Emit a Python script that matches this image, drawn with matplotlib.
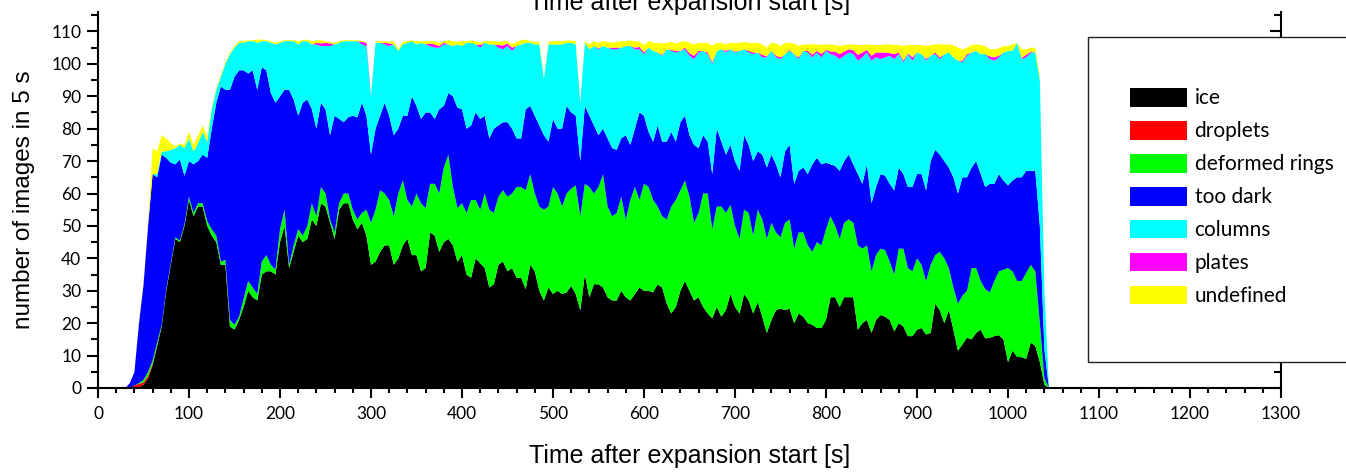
import numpy as np
import matplotlib
matplotlib.use('Agg')
from matplotlib import pyplot as plt
from matplotlib.patches import Rectangle
from matplotlib.ticker import MultipleLocator

# counts per 5 s bin, t = 0, 5, ..., 1045 s
time = np.arange(0, 1050, 5)

ice = [0, 0, 0, 0, 0, 0, 0, 0, 0, 0.3,
       1, 3, 7, 13, 19, 30, 38, 46, 45, 50,
       58, 53, 56, 56, 50, 47, 45, 38, 38, 19,
       18, 21, 25, 30, 28, 27, 35, 36, 36, 35,
       45, 50, 37, 42, 47, 45, 46, 52, 50, 57,
       56, 51, 46, 55, 57, 57, 52, 49, 51, 47,
       38, 39, 42, 44, 44, 38, 40, 44, 46, 41,
       41, 36, 37, 48, 47, 42, 45, 46, 44, 39,
       41, 35, 34, 40, 38.5, 37, 31, 32, 38, 39,
       36, 37, 34, 34, 30.5, 38, 36, 30, 27, 31,
       29, 30, 29, 29.5, 31.5, 29, 24, 35, 28, 32,
       32, 31, 28, 27, 27, 30, 28, 27, 29, 31,
       30, 30, 29.5, 32, 31, 26, 23, 25, 30, 33,
       30, 27, 28, 25, 23, 21.5, 25, 22, 24, 29,
       25, 23, 29, 27, 23, 26.5, 22, 17, 21, 24,
       24.5, 24, 24.5, 20, 23, 22, 20, 19.5, 18.5, 18.5,
       21, 28, 28, 25, 28, 28, 28, 18, 20, 21,
       17, 21, 22.5, 22, 21, 17.5, 20, 19, 16, 16,
       18, 18.5, 16.5, 17, 26, 24, 20, 24, 18, 11.5,
       13.5, 15.5, 15, 17, 18, 15.3, 15.5, 16, 16.3, 15,
       8, 11.5, 9.6, 9.5, 9, 14, 13, 8, 1, 0]

droplets = [0, 0, 0, 0, 0, 0, 0, 0, 0.8, 1,
            0.7, 0.8, 0.5] + [0] * 197

deformed_rings = [0, 0, 0, 0, 0, 0, 0, 0, 0, 0.2,
                  0.8, 1.2, 1, 1, 0.5, 0.5, 0.5, 0.5, 0.5, 0.5,
                  1, 1, 1, 1, 1.5, 2, 2, 1, 1.5, 2,
                  1.5, 1, 2.5, 3, 3, 2, 4, 5, 2, 1.5,
                  4, 5, 1, 2, 2, 2, 4, 5, 3, 5,
                  4, 1, 2, 2, 3, 3, 3, 3, 3, 8,
                  13, 16, 19, 16, 14, 15, 20, 20, 12, 15,
                  19, 21, 18.5, 15, 16, 18, 23, 26, 18, 16.5,
                  16, 19, 24, 18, 16.5, 23, 24, 22, 21, 22,
                  23, 23, 28, 28, 30.5, 28, 24, 26, 28, 25,
                  33, 30, 27, 30.5, 30, 33.5, 29, 28, 34, 28,
                  30, 35, 28, 26, 27, 29, 24, 31, 33, 27,
                  33, 32, 28.5, 24, 22, 26, 33, 33, 31, 31,
                  29, 24, 26, 35, 37, 27.5, 31, 34, 30, 27.5,
                  25, 23, 26, 27, 24, 28.5, 30, 29, 30, 24,
                  22, 27, 27.5, 23, 25, 26, 24, 22.5, 26.5, 25.5,
                  28, 25, 22, 21, 23, 24, 23, 26, 23, 23,
                  19, 20, 20.5, 20.5, 18, 17.5, 23, 24, 21, 20,
                  22, 19.5, 16.5, 21, 15, 18, 20, 13, 13, 14.5,
                  15, 14.5, 22, 20, 15, 15.2, 14, 17, 19.7, 21.5,
                  29, 24.5, 23.4, 23.5, 26.5, 24, 23, 12, 2, 0]

too_dark = [0, 0, 0, 0, 0, 0, 0, 1.5, 4.2, 18.5,
            29.5, 45, 57.5, 51, 52.5, 40.5, 31, 22.5, 25, 15,
            11, 15, 13, 15, 19.5, 31, 41, 54, 52.5, 71,
            76.5, 76, 70.5, 64, 67, 63, 60, 57, 53, 51.5,
            41, 37, 54, 45, 35, 41, 39, 29, 27, 26,
            26, 26, 36, 26, 22, 23.5, 29, 31.5, 34, 29,
            21, 25, 23, 28, 26, 25, 20, 20, 26, 34,
            27, 26, 29.5, 22, 20, 26, 19, 19, 28, 31,
            29, 26, 23, 27, 28, 24, 22, 26, 22, 21,
            23, 20, 15, 15, 25, 21, 24, 25, 23, 20,
            21, 20, 24, 27, 23.5, 21.5, 17, 24, 22, 21,
            16, 14, 21, 21, 19.5, 18, 26, 17, 18, 27,
            21, 17, 18, 25, 23, 24, 23, 18, 21, 20,
            19, 24, 20, 18, 16, 17, 24, 20, 18, 18.5,
            20, 21, 23, 21, 23, 18, 20, 22, 21, 21,
            18.5, 22, 23, 20, 19, 20, 22, 27, 26, 25,
            20.5, 16, 18.5, 21, 19, 20, 18, 22, 20, 25,
            21, 21, 23, 23, 24, 26, 25, 23, 25, 26,
            26, 28, 28, 32, 32.5, 30, 30, 31, 34, 34,
            36.5, 35, 31, 33, 33, 31.5, 33.5, 30, 30, 27.5,
            25.5, 28, 32, 32, 31.5, 29, 31, 30, 9, 0]

columns = [0, 0, 0, 0, 0, 0, 0, 0, 0, 0,
           0, 0, 0, 1, 1, 2, 4, 5, 4.5, 8.5,
           7, 4, 5.5, 7, 5, 6, 4, 3, 8, 11,
           9, 8.5, 8.5, 10, 9, 14.5, 8, 9, 15.5, 18,
           16.5, 15, 15, 18, 22, 19, 18, 20, 26, 17.5,
           19.5, 27.5, 22, 23.5, 25, 23.5, 23, 23.5, 18, 21.5,
           18, 26.5, 22.5, 18, 21.5, 28, 24, 22, 22.5, 17,
           19, 23.5, 21, 20.5, 22, 19, 19, 15, 15.5, 19.5,
           19.5, 26.5, 25.5, 21, 22, 22.5, 29, 26, 24, 22.5,
           23.5, 24, 28.5, 29, 20.5, 19.5, 22, 25, 17.5, 30,
           23, 26, 26, 19.5, 21.5, 22, 18, 19.5, 20.5, 24.5,
           26.5, 25.5, 28, 30.5, 31, 28, 27.5, 30.5, 24.5, 19.5,
           19, 26, 28, 22.5, 26.5, 28.5, 25, 27.5, 22, 20.5,
           24.5, 26.5, 29.5, 26, 27, 34, 24, 28.5, 31.5, 29.5,
           33.5, 37, 26.5, 28.5, 33, 30.5, 30, 34, 32, 33,
           36.5, 30, 29, 40, 34.5, 36, 37.5, 33, 32.5, 33,
           34.5, 34, 34, 34.5, 32.5, 31.5, 34, 35, 39, 34.5,
           44, 40, 35.5, 36.5, 39.5, 40.5, 35, 34.5, 41, 39,
           37.5, 37, 40, 32.5, 29.5, 29.5, 33, 35.5, 37, 41,
           35.5, 37.5, 35.5, 34, 37, 41, 38.5, 38, 36, 39.5,
           41.5, 40, 41.5, 36.5, 35, 36.5, 36.5, 45, 18, 0]

plates = [0] * 48 + [0.5, 0.8,
          1, 0.8, 0, 0, 0, 0, 0, 0, 0.8, 1,
          0.3, 0, 0, 0.5, 0.8, 0, 0, 0, 0, 0,
          0, 0, 0, 0.8, 1, 0.5, 0.5, 0, 0, 0,
          0, 0, 0, 0, 0.8, 0, 0, 0, 0.8, 1.2,
          0.8, 1, 0, 0, 0, 0, 0, 0, 0, 0,
          0, 0, 0, 0, 0, 0, 0, 0, 0, 0,
          0.3, 0, 0, 0.5, 0.5, 0, 0, 0, 0.5, 0.7,
          0.5, 0, 0, 0, 0.3, 0, 0.3, 0.5, 0, 0.5,
          0.8, 1, 0.5, 0, 0.5, 0.5, 0, 0, 0.5, 0,
          0.3, 0, 0, 0.5, 0.5, 0, 0.8, 0.3, 0, 0.5,
          0.5, 0, 0.3, 0, 0.5, 0, 0.5, 0.8, 0.5, 1,
          0.3, 0.8, 1.3, 1.5, 1.3, 1, 1.2, 1.8, 1.5, 0.8,
          1.5, 1.5, 2, 1.5, 0.8, 1.5, 0.5, 0.5, 0.3, 1,
          0, 0, 0.5, 0, 0.5, 0.5, 0, 0, 0, 0,
          0.5, 0.5, 0, 0, 0, 0, 0.8, 1, 0.5, 0,
          0, 0, 0, 0.3, 0.8, 0.3, 0, 0, 0, 0]

undefined = [0, 0, 0, 0, 0, 0, 0, 0, 0.2, 0.5,
             0.5, 0.5, 8, 7, 5, 4, 2, 0.5, 0.5, 1,
             2, 2, 2.5, 2, 1.5, 0.5, 0.5, 0.5, 0.5, 0.5,
             0.5, 0.5, 0.5, 0.3, 0.3, 1, 0.5, 0.3, 0.5, 0.5,
             0.5, 0.3, 0.3, 0.3, 1, 0.3, 0.5, 1, 0.7, 1,
             0.5, 0.5, 0.5, 0.5, 0.3, 0.3, 0.3, 0.3, 0.2, 0.3,
             0.2, 0.5, 0.5, 0.5, 0.5, 1, 0.5, 0.8, 0.5, 0.3,
             1, 0.5, 1, 0.7, 1, 1, 0.5, 1.3, 1.5, 0.8,
             1.5, 0.5, 0.7, 1, 0.7, 0.5, 1, 1, 1, 1.3,
             0.7, 1, 1.3, 1.3, 1, 0.5, 0.8, 0.8, 0.5, 0.8,
             1, 1, 1, 0.7, 0.7, 1, 0, 0.5, 1.5, 1.5,
             1.7, 1.5, 1.8, 1.5, 1.8, 2, 1.5, 1.7, 2, 1.6,
             2.3, 2, 2.5, 3, 3.5, 2, 2.5, 2.3, 2.8, 2,
             3.2, 3.5, 2.5, 2.5, 3, 5, 2.5, 2, 2, 2,
             2.7, 2.5, 2.3, 2.5, 3, 3, 3.2, 2.7, 2.5, 3.8,
             3.5, 3.5, 2.2, 3.3, 3.5, 2, 2, 3.2, 2, 2.8,
             1.7, 2.2, 2, 2.5, 2, 1.5, 1.8, 3, 2.3, 1.7,
             3.3, 2.3, 2.3, 2.5, 2.7, 2.8, 2.3, 4.5, 2.5, 3.8,
             2.3, 2.8, 4, 3.3, 2.5, 4, 3, 2.5, 3.8, 4,
             3.5, 2, 2.3, 2, 2.8, 2.5, 2.2, 2.5, 2.3, 2,
             1.5, 2, 0, 2.7, 1.7, 1.2, 1.5, 1, 0, 0]

labels = ['ice', 'droplets', 'deformed rings', 'too dark', 'columns', 'plates', 'undefined']
colors = ['#000000', '#ff0000', '#00ff00', '#0000ff', '#00ffff', '#ff00ff', '#ffff00']

W, H = 1346, 473
fig = plt.figure(figsize=(W / 100, H / 100), dpi=100)
ax = fig.add_axes([98 / W, 1 - 388 / H, (1281 - 98) / W, (388 - 12) / H])

ax.stackplot(time, ice, droplets, deformed_rings, too_dark, columns, plates, undefined,
             colors=colors, labels=labels, linewidth=0)

ax.set_xlim(0, 1300)
ax.set_ylim(0, 116)
ax.xaxis.set_major_locator(MultipleLocator(100))
ax.xaxis.set_minor_locator(MultipleLocator(20))
ax.yaxis.set_major_locator(MultipleLocator(10))
ax.yaxis.set_minor_locator(MultipleLocator(5))

tick_font = 'Lato'
ax.tick_params(axis='x', which='major', direction='out', length=7, width=1.5, pad=6,
               labelsize=12.5)
ax.tick_params(axis='x', which='minor', direction='out', length=3.6, width=1.5)
ax.tick_params(axis='y', which='major', direction='out', length=8, width=1.5, pad=4,
               labelsize=12.5)
ax.tick_params(axis='y', which='minor', direction='out', length=5, width=1.5)
ax.tick_params(axis='y', which='both', right=True)
for lbl in ax.get_xticklabels() + ax.get_yticklabels():
    lbl.set_fontfamily(tick_font)

# right side ticks point inwards
for t in ax.yaxis.get_major_ticks() + ax.yaxis.get_minor_ticks():
    t.tick2line.set_marker(0)

ax.spines['top'].set_visible(False)
for s in ['left', 'bottom', 'right']:
    ax.spines[s].set_linewidth(1.5)

ax.set_xlabel('Time after expansion start [s]', fontfamily='Liberation Sans', fontsize=18,
              labelpad=16)
ax.set_ylabel('number of images in 5 s', fontfamily='Liberation Sans', fontsize=17.5,
              labelpad=12)
fig.text(689.5 / W, 1 - 10 / H, 'Time after expansion start [s]', ha='center', va='baseline',
         fontfamily='Liberation Sans', fontsize=18)

# legend box (runs off the right edge like the original)
fig.add_artist(Rectangle((1088 / W, 1 - 362 / H), 400 / W, 325 / H, transform=fig.transFigure,
                         facecolor='white', edgecolor='#222222', linewidth=1, clip_on=False))
handles, lbls = ax.get_legend_handles_labels()
fig.legend(handles, lbls, loc='upper left', bbox_to_anchor=(1130 / W, 1 - 88 / H),
           frameon=False, borderpad=0, borderaxespad=0, handlelength=2.75, handleheight=1.0,
           labelspacing=0.6, handletextpad=0.35, prop={'family': 'Lato', 'size': 15})

fig.savefig('out.png', dpi=100)
